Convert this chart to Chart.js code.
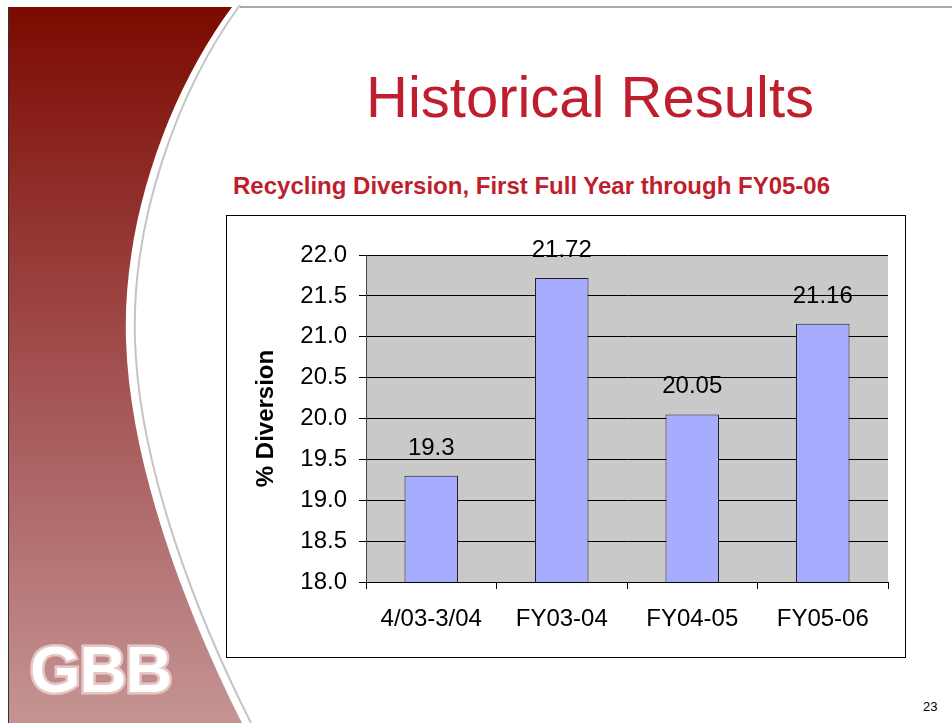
<!DOCTYPE html>
<html>
<head>
<meta charset="utf-8">
<title>Historical Results</title>
<script src="https://cdn.jsdelivr.net/npm/chart.js@4.4.0/dist/chart.umd.min.js"></script>
<style>
    html, body { margin: 0; padding: 0; background: #fff; }
    body { width: 952px; height: 723px; position: relative; overflow: hidden; font-family: "Liberation Sans", Arial, sans-serif; }
    #deco { position: absolute; left: 0; top: 0; }
    .title { position: absolute; left: 240px; width: 700px; top: 68px; text-align: center; font-size: 58px; color: #BE1E2D; line-height: 1; }
    .subtitle { position: absolute; left: 233px; top: 174px; font-size: 24px; font-weight: bold; color: #BE1E2D; line-height: 1; white-space: nowrap; }
    #chartBox { position: absolute; left: 226px; top: 215px; width: 678px; height: 441px; border: 1px solid #000; background: #fff; }
    .pageNum { position: absolute; left: 923px; top: 699px; font-size: 13px; color: #000; }
</style>
</head>
<body>

<svg id="deco" width="952" height="723">
    <defs>
        <linearGradient id="redFade" x1="0" y1="0" x2="0" y2="1">
            <stop offset="0" stop-color="#7C0A00"/>
            <stop offset="0.5" stop-color="#A24F4F"/>
            <stop offset="1" stop-color="#C59494"/>
        </linearGradient>
    </defs>
    <path d="M8,7 L232,7 C170,90 122,220 126,340 C130,470 190,620 242,723 L8,723 Z" fill="url(#redFade)"/>
    <path d="M236,7 C174,90 126,220 130,340 C134,470 194,620 246,723" fill="none" stroke="#ffffff" stroke-width="3"/>
    <path d="M240,5 C178,90 131,220 135,340 C139,470 199,620 251,723" fill="none" stroke="#C4C4C4" stroke-width="2"/>
    <line x1="240" y1="7" x2="952" y2="7" stroke="#555" stroke-width="1"/>
    <line x1="8.5" y1="7" x2="8.5" y2="723" stroke="#333" stroke-width="1"/>
    <text x="30" y="692" font-family="Liberation Sans, Arial" font-weight="bold" font-size="65" letter-spacing="-1"
          fill="#ffffff" stroke="#E6C6C6" stroke-width="5" paint-order="stroke">GBB</text>
</svg>

<div class="title">Historical Results</div>
<div class="subtitle">Recycling Diversion, First Full Year through FY05-06</div>

<div id="chartBox">
    <canvas id="diversionChart" width="678" height="441"></canvas>
</div>

<div class="pageNum">23</div>

<script>
// chart data
const categories = ['4/03-3/04', 'FY03-04', 'FY04-05', 'FY05-06'];
const diversionValues = [19.3, 21.72, 20.05, 21.16];
const valueLabels = ['19.3', '21.72', '20.05', '21.16'];
const yTicks = [18.0, 18.5, 19.0, 19.5, 20.0, 20.5, 21.0, 21.5, 22.0];

const FONT = '"Liberation Sans", Arial, sans-serif';

// grey plot area like the old Excel chart
const plotBackground = {
    id: 'plotBackground',
    beforeDraw(chart) {
        const { ctx, chartArea } = chart;
        ctx.save();
        ctx.fillStyle = '#C9C9C9';
        ctx.fillRect(chartArea.left, chartArea.top, chartArea.right - chartArea.left, chartArea.bottom - chartArea.top);
        ctx.restore();
    }
};

// value labels above each bar
const barValueLabels = {
    id: 'barValueLabels',
    afterDatasetsDraw(chart) {
        const { ctx } = chart;
        const meta = chart.getDatasetMeta(0);
        ctx.save();
        ctx.font = '24px ' + FONT;
        ctx.fillStyle = '#000';
        ctx.textAlign = 'center';
        ctx.textBaseline = 'alphabetic';
        meta.data.forEach((bar, i) => {
            ctx.fillText(valueLabels[i], bar.x, bar.y - 21);
        });
        ctx.restore();
    }
};

const ctx = document.getElementById('diversionChart').getContext('2d');

new Chart(ctx, {
    type: 'bar',
    data: {
        labels: categories,
        datasets: [{
            label: '% Diversion',
            data: diversionValues,
            backgroundColor: '#A8ACFF',
            borderColor: '#222222',
            borderWidth: 1,
            borderSkipped: false,
            barPercentage: 0.41,
            categoryPercentage: 1
        }]
    },
    options: {
        responsive: false,
        animation: false,
        events: [],
        layout: {
            padding: { top: 39, right: 17, bottom: 0, left: 0 }
        },
        plugins: {
            legend: { display: false },
            tooltip: { enabled: false }
        },
        scales: {
            x: {
                offset: true,
                grid: {
                    offset: true,
                    drawOnChartArea: false,
                    drawTicks: true,
                    tickLength: 7,
                    tickColor: '#000'
                },
                border: { color: '#000', width: 1 },
                ticks: {
                    color: '#000',
                    font: { family: FONT, size: 24 },
                    padding: 16,
                    maxRotation: 0
                },
                afterFit(scale) { scale.height = 75; }
            },
            y: {
                min: 18,
                max: 22,
                afterBuildTicks(scale) {
                    scale.ticks = yTicks.map(v => ({ value: v }));
                },
                grid: {
                    color: '#000',
                    lineWidth: 1,
                    tickLength: 7,
                    tickColor: '#000'
                },
                border: { color: '#444', width: 1 },
                ticks: {
                    color: '#000',
                    font: { family: FONT, size: 24 },
                    padding: 12,
                    callback: v => Number(v).toFixed(1)
                },
                title: {
                    display: true,
                    text: '% Diversion',
                    color: '#000',
                    font: { family: FONT, size: 24, weight: 'bold' },
                    padding: { top: 25, bottom: 0 }
                },
                afterFit(scale) { scale.width = 139; }
            }
        }
    },
    plugins: [plotBackground, barValueLabels]
});
</script>
</body>
</html>
